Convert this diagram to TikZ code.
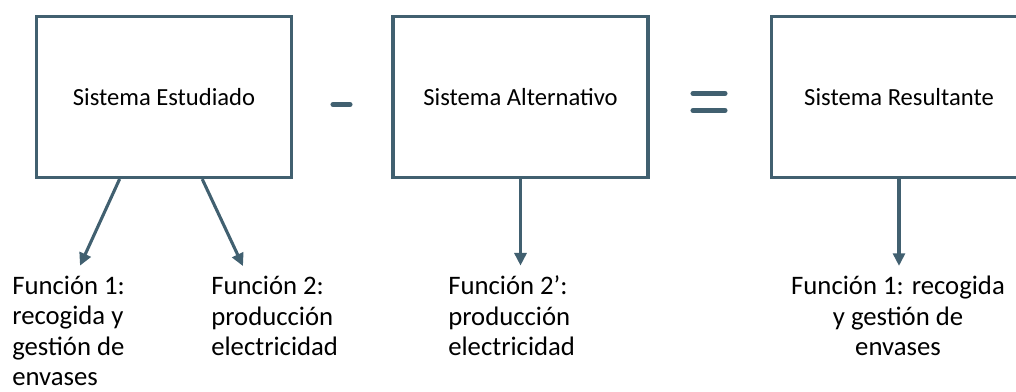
\documentclass[tikz,border=0pt]{standalone}
\usepackage{fontspec}
\setmainfont{Carlito}
\usetikzlibrary{calc,arrows.meta}
\definecolor{slate}{RGB}{65,96,112}

\begin{document}
\begin{tikzpicture}[x=0.025cm,y=-0.025cm,
    sys/.style={draw=slate,line width=2.2pt,minimum width=6.375cm,minimum height=4.025cm,font=\fontsize{17.5}{21}\selectfont},
    func/.style={inner sep=0pt,font=\fontsize{19}{21.6}\selectfont},
    arr/.style={draw=slate,line width=2.2pt,-{Triangle[length=9pt,width=8.5pt]}},
    op/.style={draw=slate,line width=3.6pt,line cap=round}]
    \useasboundingbox (0,0) rectangle (1016,392);
    \clip (0,0) rectangle (1016,392);
    \node[sys] at (164,97) (SE) {Sistema Estudiado};
    \node[sys] at (520.5,97) (SA) {Sistema Alternativo};
    \node[sys] at (899,97) (SR) {Sistema Resultante};
    % minus and equals
    \draw[op] (333,104.5) -- (350,104.5);
    \draw[op] (693,93.5) -- (725,93.5) (693,110.5) -- (725,110.5);
    % functions (anchored on the last line)
    \node[func,align=left,anchor=base west] at (12,385.5) (F1) {Función 1:\\recogida y\\gestión de\\envases};
    \node[func,align=left,anchor=base west] at (211,355.5) (F2) {Función 2:\\producción\\electricidad};
    \node[func,align=left,anchor=base west] at (448,355.5) (F2p) {Función 2’:\\producción\\electricidad};
    \node[func,align=center,anchor=base] at (898,355.5) (F1r) {Función 1: recogida\\y gestión de\\envases};
    \draw[arr] ($(SE.south west)!0.328!(SE.south east)$) -- ($(F1.north west)+(68,-10)$);
    \draw[arr] ($(SE.south west)!0.648!(SE.south east)$) -- ($(F2.north west)+(32,-10)$);
    \draw[arr] (SA.south) -- ($(F2p.north west)+(72.5,-10)$);
    \draw[arr] (SR.south) -- ($(F1r.north)+(1,-10)$);
\end{tikzpicture}
\end{document}
